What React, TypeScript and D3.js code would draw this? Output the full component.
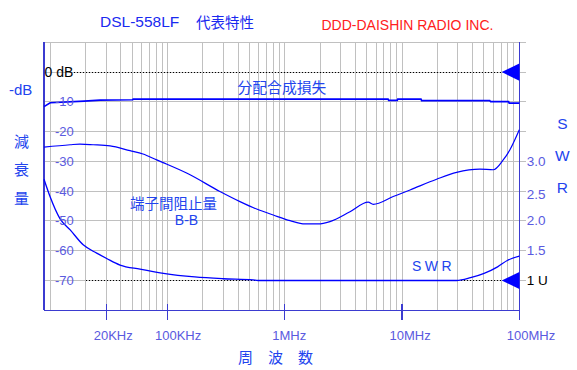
import React from 'react';
import * as d3 from 'd3';

// ---- chart data ----
const xTickValues = [3e4, 1e5, 1e6, 1e7, 1e8];
const xTickLabels = ['20KHz', '100KHz', '1MHz', '10MHz', '100MHz'];
const dbTicks = [-10, -20, -30, -40, -50, -60, -70];
const swrTicks = [3.0, 2.5, 2.0, 1.5];
const swrTickLabels = ['3.0', '2.5', '2.0', '1.5'];

// 分配合成損失 (dB)
const lossFreq = [8.85e3, 1e4, 1.95e4, 2.66e4, 5.05e4, 5.1e4, 7.6e6, 7.7e6, 9.1e6, 9.2e6, 1.45e7, 1.47e7, 5.6e7, 5.7e7, 8.1e7, 8.2e7, 1e8];
const lossDb = [-11.6, -10.3, -9.75, -9.4, -9.3, -9.05, -9.05, -9.5, -9.5, -9.05, -9.05, -9.6, -9.6, -9.95, -9.95, -10.4, -10.4];

// 端子間阻止量 B-B (dB)
const isoFreq = [8.85e3, 1.48e4, 1.79e4, 2.32e4, 3.24e4, 4.79e4, 6.18e4, 8.09e4, 9.16e4, 1.47e5, 2.8e5, 4.15e5, 5.76e5, 7.98e5, 1.11e6, 1.49e6, 1.93e6, 2.43e6, 3.6e6, 5.15e6, 5.68e6, 8.41e6, 1.17e7, 1.97e7, 2.92e7, 4.61e7, 5.99e7, 7.29e7, 8.32e7, 1e8];
const isoDb = [-25.2, -24.4, -24.2, -24.4, -24.8, -26.4, -27.5, -29.5, -30.4, -34.0, -40.1, -43.5, -46.0, -48.0, -49.9, -51.0, -51.0, -50.2, -46.9, -43.7, -44.4, -41.8, -39.6, -36.0, -33.7, -32.6, -32.8, -29.5, -26.1, -19.4];

// SWR
const swrFreq = [8.85e3, 9.96e3, 1.21e4, 1.48e4, 1.91e4, 2.49e4, 3.03e4, 3.94e4, 5.83e4, 9.23e4, 1.71e5, 2.98e5, 5.36e5, 5.9e5, 2.92e7, 3.84e7, 5.01e7, 6.53e7, 7.96e7, 1e8];
const swrVal = [2.7, 2.41, 2.04, 1.85, 1.6, 1.46, 1.37, 1.26, 1.19, 1.12, 1.06, 1.03, 1.01, 1.0, 1.0, 1.047, 1.12, 1.23, 1.34, 1.41];

const LATIN = "'Liberation Sans', Arial, sans-serif";
const JP = "'Noto Sans CJK JP', sans-serif";
const BLUE = '#0000ff';
const AXIS = '#3b3bd0';
const GRID = '#c0c0c0';
const TICK_TXT = '#5a5ae0';
const LABEL = '#2244ee';

const width = 577;
const height = 370;

export default function App() {
  const x = d3.scaleLog().domain([8.85e3, 1e8]).range([44, 519.3]);
  const y = d3.scaleLinear().domain([10, -80]).range([42.3, 310.3]);
  const ySwr = d3.scaleLinear().domain([1, 3]).range([y(-70), y(-30)]);

  const left = x.range()[0];
  const right = x.range()[1];
  const top = y.range()[0];
  const bottom = y.range()[1];

  const vGrid = x.ticks().filter((f) => f >= 1e4 && f < 1e8);
  const hGrid = d3.range(10, -71, -10);

  const dbLine = d3
    .line<number>()
    .x((_, i) => x(lossFreq[i]))
    .y((d) => y(d));
  const isoLine = d3
    .line<number>()
    .x((_, i) => x(isoFreq[i]))
    .y((d) => y(d))
    .curve(d3.curveMonotoneX);
  const swrLine = d3
    .line<number>()
    .x((_, i) => x(swrFreq[i]))
    .y((d) => ySwr(d))
    .curve(d3.curveMonotoneX);

  const tri = (yc: number) =>
    `M${right - 17.6},${yc} L${right},${yc - 8.6} L${right},${yc + 8.6} Z`;

  return (
    <svg
      width={width}
      height={height}
      style={{ position: 'absolute', left: 0, top: 0, background: '#fff' }}
    >
      {/* grid */}
      <g shapeRendering="crispEdges">
        {vGrid.map((f, i) => (
          <line key={'v' + i} x1={x(f)} x2={x(f)} y1={top} y2={bottom} stroke={GRID} strokeWidth={1} />
        ))}
        {hGrid.map((v, i) => (
          <line key={'h' + i} x1={left} x2={right + 7} y1={y(v)} y2={y(v)} stroke={GRID} strokeWidth={1} />
        ))}

        {/* reference dotted lines */}
        <line x1={73.5} x2={right - 17.6} y1={y(0)} y2={y(0)} stroke="#000" strokeWidth={1} strokeDasharray="1,2" />
        <line x1={85.7} x2={right - 17.6} y1={y(-70)} y2={y(-70)} stroke="#000" strokeWidth={1} strokeDasharray="1,2" />

        {/* axes */}
        <line x1={left} x2={left} y1={top} y2={bottom} stroke={AXIS} strokeWidth={1.3} />
        <line x1={left} x2={right} y1={bottom} y2={bottom} stroke={AXIS} strokeWidth={1.3} />
        <line x1={right} x2={right} y1={top} y2={bottom + 10} stroke={AXIS} strokeWidth={1.3} />
        {xTickValues.map((f, i) => (
          <line key={'xt' + i} x1={x(f)} x2={x(f)} y1={bottom - 6} y2={bottom + 9.5} stroke={AXIS} strokeWidth={1.3} />
        ))}
      </g>

      {/* curves */}
      <path d={dbLine(lossDb)!} fill="none" stroke={BLUE} strokeWidth={1.7} />
      <path d={isoLine(isoDb)!} fill="none" stroke={BLUE} strokeWidth={1.2} />
      <path d={swrLine(swrVal)!} fill="none" stroke={BLUE} strokeWidth={1.3} />

      {/* markers */}
      <path d={tri(y(0))} fill={BLUE} />
      <path d={tri(y(-70))} fill={BLUE} />

      {/* y tick labels (dB) */}
      {dbTicks.map((v, i) => (
        <text key={'yl' + i} x={55} y={y(v)} dominantBaseline="central" fontFamily={LATIN} fontSize={13} fill={TICK_TXT}>
          {String(v)}
        </text>
      ))}
      <text x={44.5} y={y(0)} dominantBaseline="central" fontFamily={LATIN} fontSize={14} fill="#000">0 dB</text>

      {/* SWR tick labels */}
      {swrTicks.map((v, i) => (
        <text key={'sl' + i} x={526.7} y={ySwr(v) + (v === 2.5 ? 3 : 0)} dominantBaseline="central" fontFamily={LATIN} fontSize={13.5} fill={TICK_TXT}>
          {swrTickLabels[i]}
        </text>
      ))}
      <text x={526.7} y={ySwr(1)} dominantBaseline="central" fontFamily={LATIN} fontSize={13.5} fill="#000">1 U</text>

      {/* x tick labels */}
      {xTickValues.map((f, i) => (
        <text key={'xl' + i} x={x(f) - 12.5} y={335.5} dominantBaseline="central" fontFamily={LATIN} fontSize={13} fill={TICK_TXT}>
          {xTickLabels[i]}
        </text>
      ))}

      {/* titles */}
      <text x={100} y={21.5} dominantBaseline="central" fontFamily={LATIN} fontSize={15.5} fill="#1a2af0">DSL-558LF</text>
      <text x={196} y={21.5} dominantBaseline="central" fontFamily={JP} fontSize={14.5} fill="#1a2af0">代表特性</text>
      <text x={321.5} y={24.5} dominantBaseline="central" fontFamily={LATIN} fontSize={14} fill="#ff2020">DDD-DAISHIN RADIO INC.</text>

      {/* axis titles */}
      <text x={9} y={89} dominantBaseline="central" fontFamily={LATIN} fontSize={15} fill={LABEL}>-dB</text>
      {['減', '衰', '量'].map((c, i) => (
        <text key={'yt' + i} x={21.5} y={140 + i * 28.7} textAnchor="middle" dominantBaseline="central" fontFamily={JP} fontSize={15} fill={LABEL}>
          {c}
        </text>
      ))}
      {['S', 'W', 'R'].map((c, i) => (
        <text key={'st' + i} x={562.3} y={123.5 + i * 31.8} textAnchor="middle" dominantBaseline="central" fontFamily={LATIN} fontSize={15.5} fill={LABEL}>
          {c}
        </text>
      ))}
      <text x={238} y={356.7} dominantBaseline="central" fontFamily={JP} fontSize={15} letterSpacing={15} fill={LABEL}>周波数</text>

      {/* curve annotations */}
      <text x={237.5} y={86} dominantBaseline="central" fontFamily={JP} fontSize={14.8} fill={LABEL}>分配合成損失</text>
      <text x={130} y={202} dominantBaseline="central" fontFamily={JP} fontSize={14.5} fill={LABEL}>端子間阻止量</text>
      <text x={186.5} y={220} textAnchor="middle" dominantBaseline="central" fontFamily={LATIN} fontSize={14} fill={LABEL}>B-B</text>
      <text x={412} y={266} dominantBaseline="central" fontFamily={LATIN} fontSize={14} letterSpacing={3.5} fill={LABEL}>SWR</text>
    </svg>
  );
}
